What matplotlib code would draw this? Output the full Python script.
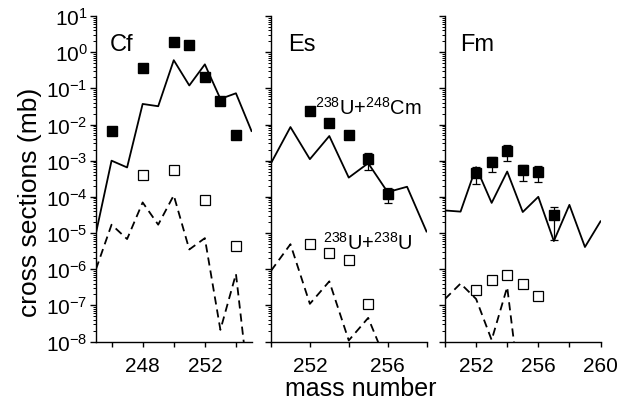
import numpy as np
import matplotlib
matplotlib.use("Agg")
import matplotlib.pyplot as plt
from matplotlib.ticker import LogLocator, NullFormatter, FixedLocator

plt.rcParams['font.family'] = ['Liberation Sans', 'DejaVu Sans']
plt.rcParams['mathtext.fontset'] = 'custom'
plt.rcParams['mathtext.rm'] = 'Liberation Sans'
plt.rcParams['mathtext.it'] = 'Liberation Sans:italic'
plt.rcParams['axes.unicode_minus'] = False

# ---------------- data ----------------
# Cf
cf_mass_exp = [246, 248, 250, 251, 252, 253, 254]
cf_exp_cm = [6.8e-3, 0.37, 1.9, 1.6, 0.2, 0.046, 5.1e-3]
cf_mass_exp_u = [248, 250, 252, 254]
cf_exp_u = [4.1e-4, 5.4e-4, 8.3e-5, 4.5e-6]
cf_mass_calc = [245, 246, 247, 248, 249, 250, 251, 252, 253, 254, 255]
cf_calc_cm = [1.0e-5, 1.0e-3, 6.5e-4, 0.037, 0.032, 0.6, 0.12, 0.46, 0.051, 0.073, 6.6e-3]
cf_calc_u = [1.0e-6, 1.7e-5, 6.8e-6, 7.0e-5, 1.7e-5, 1.1e-4, 3.5e-6, 7.2e-6, 2.1e-8, 7.4e-7, 1.3e-10]

# Es
es_mass_exp = [252, 253, 254, 255, 256]
es_exp_cm = [0.023, 0.0107, 5.1e-3, 1.1e-3, 1.2e-4]
es_err_mass = [255, 256]
es_err_val = [1.1e-3, 1.2e-4]
es_err_low = [5.6e-4, 6.9e-5]
es_err_high = [1.66e-3, 1.74e-4]
es_mass_exp_u = [252, 253, 254, 255]
es_exp_u = [4.9e-6, 2.8e-6, 1.85e-6, 1.07e-7]
es_mass_calc = [250, 251, 252, 253, 254, 255, 256, 257, 258]
es_calc_cm = [8.5e-4, 8.5e-3, 1.1e-3, 4.8e-3, 3.4e-4, 8.5e-4, 1.35e-4, 1.9e-4, 1.1e-5]
es_mass_calc_u = [250, 251, 252, 253, 254, 255, 256]
es_calc_u = [9e-7, 4.9e-6, 1.1e-7, 4.6e-7, 1.07e-8, 4.5e-8, 2.2e-9]

# Fm
fm_mass_exp = [252, 253, 254, 255, 256, 257]
fm_exp_cm = [4.5e-4, 9.1e-4, 1.9e-3, 5.4e-4, 4.8e-4, 3.1e-5]
fm_err_low = [2.24e-4, 4.8e-4, 1.0e-3, 2.75e-4, 2.5e-4, 6.5e-6]
fm_err_high = [6.6e-4, 1.29e-3, 2.75e-3, 7.8e-4, 6.9e-4, 5.2e-5]
fm_mass_exp_u = [252, 253, 254, 255, 256]
fm_exp_u = [2.7e-7, 5.1e-7, 6.9e-7, 3.9e-7, 1.8e-7]
fm_mass_calc = [250, 251, 252, 253, 254, 255, 256, 257, 258, 259, 260]
fm_calc_cm = [4.2e-5, 3.9e-5, 6.6e-4, 6.8e-5, 5.0e-4, 3.8e-5, 1.0e-4, 6.0e-6, 6.0e-5, 4.1e-6, 2.1e-5]
fm_mass_calc_u = [250, 251, 252, 253, 254, 255]
fm_calc_u = [1.5e-7, 4.0e-7, 1.5e-7, 1.1e-8, 3.2e-7, 1.0e-10]

panel_names = ["Cf", "Es", "Fm"]
xlims = [(245, 255), (250, 258), (250, 260)]
major_ticks = [[248, 252], [252, 256], [252, 256, 260]]
minor_ticks = [[246, 250, 254], [250, 254, 258], [250, 254, 258]]

# ---------------- figure ----------------
W, H = 635, 410
fig = plt.figure(figsize=(W / 100, H / 100), dpi=100)
lefts = [96, 271, 445]
width = 155.5
top_px, bot_px = 17, 342.5
axes = []
for L in lefts:
    ax = fig.add_axes([L / W, (H - bot_px) / H, width / W, (bot_px - top_px) / H])
    axes.append(ax)

dash = (0, (4.5, 2.8))
lw = 1.3
msize = 6.8

panels = [
    dict(mc=cf_mass_calc, cc=cf_calc_cm, mcu=cf_mass_calc, cu=cf_calc_u,
         me=cf_mass_exp, ec=cf_exp_cm, meu=cf_mass_exp_u, eu=cf_exp_u, err=None),
    dict(mc=es_mass_calc, cc=es_calc_cm, mcu=es_mass_calc_u, cu=es_calc_u,
         me=es_mass_exp, ec=es_exp_cm, meu=es_mass_exp_u, eu=es_exp_u,
         err=(es_err_mass, es_err_val, es_err_low, es_err_high)),
    dict(mc=fm_mass_calc, cc=fm_calc_cm, mcu=fm_mass_calc_u, cu=fm_calc_u,
         me=fm_mass_exp, ec=fm_exp_cm, meu=fm_mass_exp_u, eu=fm_exp_u,
         err=(fm_mass_exp, fm_exp_cm, fm_err_low, fm_err_high)),
]

for i, (ax, p) in enumerate(zip(axes, panels)):
    ax.set_yscale('log')
    ax.plot(p['mc'], p['cc'], color='black', lw=lw, zorder=2)
    ax.plot(p['mcu'], p['cu'], color='black', lw=lw, linestyle=dash, zorder=2)
    if p['err'] is not None:
        m, v, lo, hi = p['err']
        v = np.array(v); lo = np.array(lo); hi = np.array(hi)
        ax.errorbar(m, v, yerr=[v - lo, hi - v], fmt='none', ecolor='black',
                    elinewidth=0.9, capsize=3.2, capthick=0.9, zorder=3)
    ax.plot(p['me'], p['ec'], linestyle='none', marker='s', ms=msize,
            mfc='black', mec='black', zorder=4)
    ax.plot(p['meu'], p['eu'], linestyle='none', marker='s', ms=msize,
            mfc='none', mec='black', mew=0.9, zorder=4)

    ax.set_xlim(*xlims[i])
    ax.set_ylim(1e-8, 10)
    ax.xaxis.set_major_locator(FixedLocator(major_ticks[i]))
    ax.xaxis.set_minor_locator(FixedLocator(minor_ticks[i]))
    ax.yaxis.set_major_locator(LogLocator(base=10, numticks=20))
    ax.yaxis.set_minor_locator(LogLocator(base=10, subs=np.arange(2, 10), numticks=20))
    ax.yaxis.set_minor_formatter(NullFormatter())
    for s in ['top', 'right']:
        ax.spines[s].set_visible(False)
    for s in ['left', 'bottom']:
        ax.spines[s].set_linewidth(1.0)
    ax.tick_params(axis='x', which='major', direction='out', length=3.5, width=1.0,
                   labelsize=15, pad=7)
    ax.tick_params(axis='x', which='minor', direction='out', length=3.5, width=1.0)
    ax.tick_params(axis='y', which='major', direction='out', length=4, width=1.0,
                   labelsize=15, pad=2)
    ax.tick_params(axis='y', which='minor', direction='out', length=2.2, width=0.7)
    if i > 0:
        ax.tick_params(axis='y', labelleft=False)
    ax.text([0.09, 0.11, 0.096][i], 0.896, panel_names[i], transform=ax.transAxes,
            fontsize=17, ha='left', va='baseline')

axes[1].text(315 / W, (H - 115) / H, r'$^{238}$U+$^{248}$Cm', transform=fig.transFigure,
             fontsize=14.5, ha='left', va='baseline')
axes[1].text(323 / W, (H - 250) / H, r'$^{238}$U+$^{238}$U', transform=fig.transFigure,
             fontsize=14.5, ha='left', va='baseline')

fig.text(30 / W, 1 - 202 / H, 'cross sections (mb)', rotation=90, fontsize=19,
         ha='center', va='center')
fig.text(361 / W, 1 - 389 / H, 'mass number', fontsize=18, ha='center', va='center')

fig.savefig('out.png', dpi=100)
